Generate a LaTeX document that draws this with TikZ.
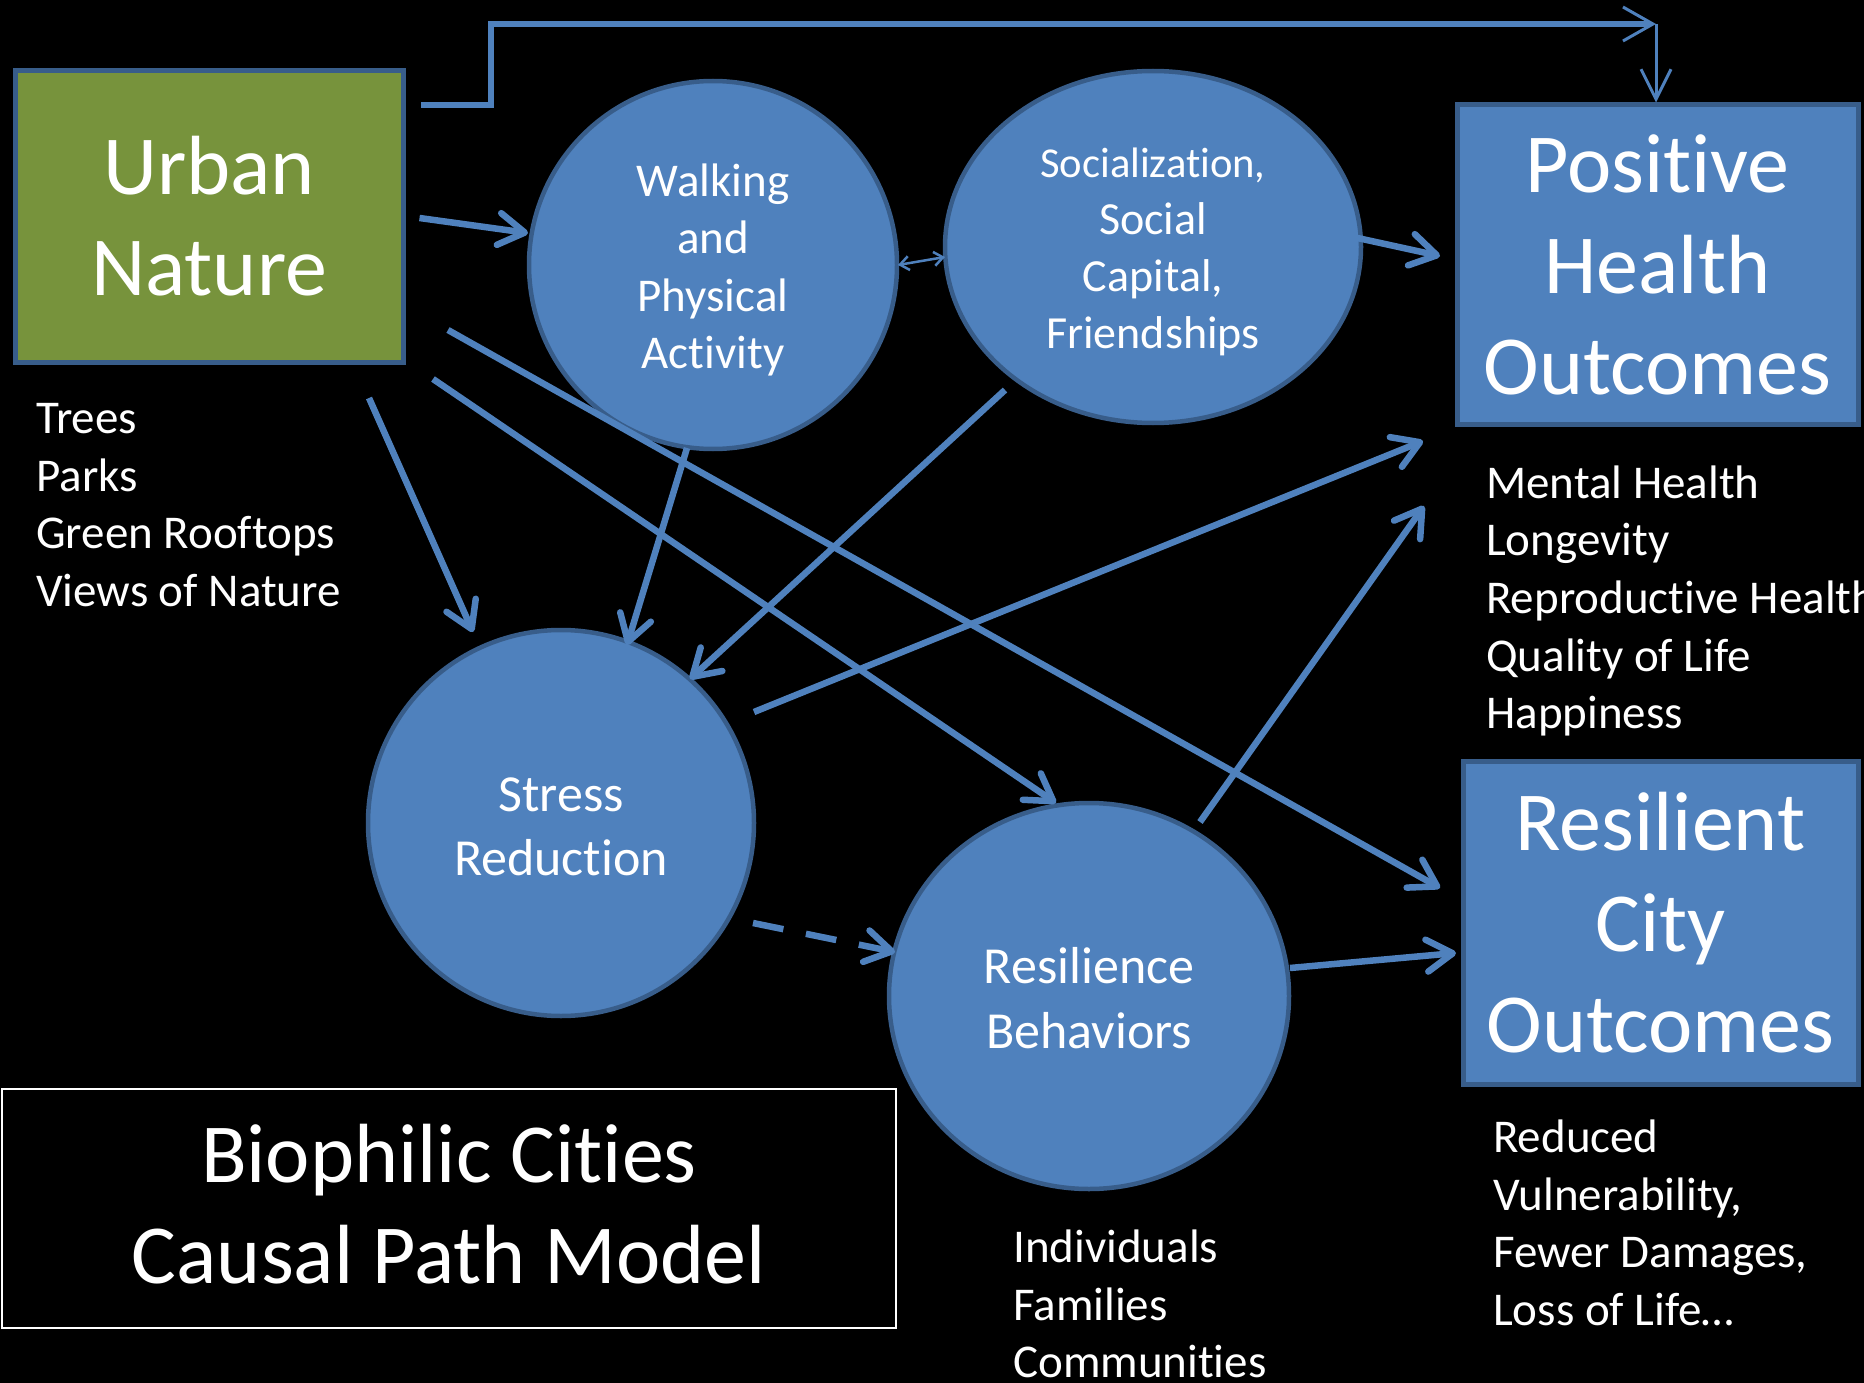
\documentclass[tikz,border=0pt]{standalone}
\usepackage{fontspec}
\setmainfont{Carlito}[Ligatures=NoCommon]
\usetikzlibrary{shapes.geometric,arrows.meta,calc}
\definecolor{nodeblue}{HTML}{4F81BD}
\definecolor{edgeblue}{HTML}{385D8A}
\definecolor{olivegreen}{HTML}{77933C}
\begin{document}
\begin{tikzpicture}[x=1pt,y=-1pt,
  bigfont/.style={font=\fontsize{84}{101}\selectfont},
  bubble/.style={circle, fill=nodeblue, draw=edgeblue, line width=4.5pt, inner sep=0pt},
  bubbletext/.style={text=white, align=center, inner sep=0pt},
  outbox/.style={rectangle, fill=nodeblue, draw=edgeblue, line width=5pt, text=white, align=center, inner sep=0pt, bigfont},
  listtext/.style={text=white, align=left, anchor=west, inner sep=0pt, font=\fontsize{47}{57.6}\selectfont},
  conn/.style={draw=nodeblue, line width=6.5pt, -{Straight Barb[length=26pt,width=32pt,round]}},
  dconn/.style={conn, dash pattern=on 31pt off 23pt},
  thinconn/.style={draw=nodeblue, line width=2.5pt, {Straight Barb[length=9pt,width=14pt]}-{Straight Barb[length=9pt,width=14pt]}}
]
\useasboundingbox (0,0) rectangle (1864,1383);
\fill[black] (0,0) rectangle (1864,1383);

% main nodes
\node[outbox, fill=olivegreen, minimum width=388, minimum height=291] (urban) at (209,216.5) {Urban\\Nature};
\node[bubble, minimum size=368] (walk) at (713,265) {};
\node[bubbletext, font=\fontsize{47}{57.5}\selectfont] (walktext) at ($(walk)+(0,5)$) {Walking\\and\\Physical\\Activity};
\node[bubble, ellipse, minimum width=416, minimum height=352] (social) at (1153,247) {};
\node[bubbletext, font=\fontsize{46}{57}\selectfont] (socialtext) at ($(social)+(0,5)$) {{\fontsize{42.6}{57}\selectfont Socialization,}\\Social\\Capital,\\Friendships};
\node[bubble, minimum size=386] (stress) at (561,823) {};
\node[bubbletext, font=\fontsize{52}{64}\selectfont] (stresstext) at ($(stress)+(0,4)$) {Stress\\Reduction};
\node[bubble, ellipse, minimum width=400, minimum height=386] (resb) at (1089,996) {};
\node[bubbletext, font=\fontsize{52}{65}\selectfont] (resbtext) at ($(resb)+(0,2)$) {Resilience\\Behaviors};
\node[outbox, minimum width=401, minimum height=319] (pho) at (1657.5,264.5) {Positive\\Health\\Outcomes};
\node[outbox, minimum width=395, minimum height=323] (rco) at (1660.5,922.5) {Resilient\\City\\Outcomes};
\node[draw=white, line width=2pt, fill=black, minimum width=894, minimum height=239] (title) at (449,1208.5) {};
\node[text=white, align=center, inner sep=0pt, bigfont] (titletext) at ($(title)+(0,-4)$) {Biophilic Cities\\Causal Path Model};

% lists
\node[listtext] (naturelist) at (36,505) {Trees\\Parks\\Green Rooftops\\Views of Nature};
\node[listtext] (healthlist) at (1486,601) {Mental Health\\Longevity\\Reproductive Health\\Quality of Life\\Happiness};
\node[listtext] (citylist) at (1493,1223) {Reduced\\Vulnerability,\\Fewer Damages,\\Loss of Life…};
\node[listtext] (scalelist) at (1013,1304) {Individuals\\Families\\Communities};

% connectors
\coordinate (topc) at ($(pho.north)+(-1.5,-78.5)$);
\draw[draw=nodeblue, line width=6pt, -{Straight Barb[length=30pt,width=34pt,line width=3pt]}] ($(urban)+(212,-111.5)$) -- ++(70,0) |- (topc);
\draw[draw=nodeblue, line width=3pt, -{Straight Barb[length=30pt,width=30pt]}] (topc) -- (topc |- pho.north);

\draw[conn] ($(urban.east)+(14,1.5)$) -- ($(walk)+(-185,-32)$);
\draw[conn] ($(urban)+(160,181.5)$) -- ($(stress)+(-88,-191)$);
\draw[conn] ($(urban)+(224,162.5)$) -- ($(resb)+(-33,-193)$);
\draw[conn] ($(urban)+(239,113.5)$) -- ($(rco)+(-220.5,-34.5)$);
\draw[thinconn] ($(walk)+(185,0)$) -- ($(social)+(-208,10)$);
\draw[conn] ($(walk)+(-26,183)$) -- ($(stress)+(66,-178)$);
\draw[conn] ($(social)+(-148,143)$) -- ($(stress)+(129,-144)$);
\draw[conn] ($(social)+(177,-15)$) -- ($(pho)+(-217.5,-8.5)$);
\draw[conn] ($(stress)+(193,-111)$) -- ($(pho)+(-234.5,176.5)$);
\draw[conn] ($(resb)+(111,-174)$) -- ($(pho)+(-233.5,241.5)$);
\draw[conn] ($(resb)+(201,-28)$) -- ($(rco)+(-204.5,30.5)$);
\draw[dconn] ($(stress)+(192,100)$) -- ($(resb)+(-194,-44)$);
\end{tikzpicture}
\end{document}
